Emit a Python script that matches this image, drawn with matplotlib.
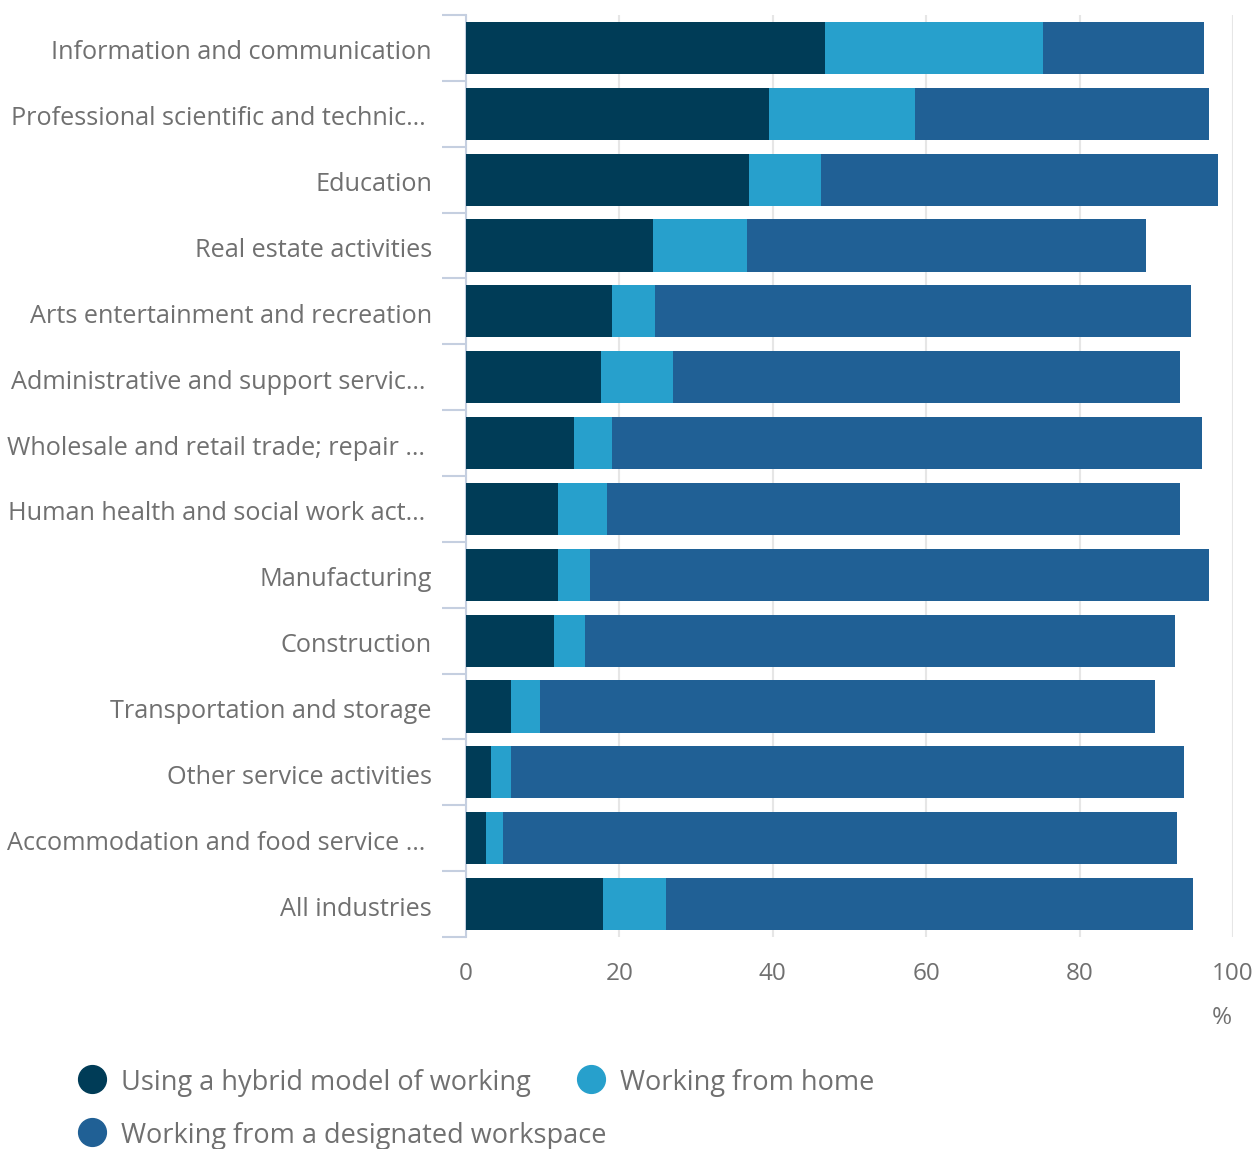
import matplotlib
matplotlib.use("Agg")
import matplotlib.pyplot as plt
from matplotlib.ticker import FixedLocator
from matplotlib.lines import Line2D
from matplotlib.transforms import ScaledTranslation

plt.rcParams['font.family'] = ['Open Sans', 'DejaVu Sans']

categories = [
    "Information and communication",
    "Professional scientific and technic… ",
    "Education",
    "Real estate activities",
    "Arts entertainment and recreation",
    "Administrative and support servic… ",
    "Wholesale and retail trade; repair … ",
    "Human health and social work act… ",
    "Manufacturing",
    "Construction",
    "Transportation and storage",
    "Other service activities",
    "Accommodation and food service … ",
    "All industries",
]
hybrid = [46.8, 39.5, 36.9, 24.4, 19.0, 17.6, 14.1, 12.0, 12.0, 11.5, 5.9, 3.3, 2.6, 17.9]
home = [28.4, 19.0, 9.4, 12.2, 5.6, 9.4, 4.9, 6.4, 4.2, 4.0, 3.7, 2.6, 2.2, 8.2]
workspace = [21.0, 38.4, 51.7, 52.1, 69.9, 66.1, 77.0, 74.7, 80.7, 76.9, 80.2, 87.7, 87.9, 68.7]
series_names = ["Using a hybrid model of working", "Working from home",
                "Working from a designated workspace"]
colors = ["#003c57", "#27a0cc", "#206095"]
xticks = [0, 20, 40, 60, 80, 100]

W, H = 1258, 1149
fig = plt.figure(figsize=(W / 100, H / 100), dpi=100)
ax = fig.add_axes([466 / W, 1 - 937 / H, (1233 - 466) / W, (937 - 15) / H])

grey = "#707070"
y = list(range(len(categories)))
left = [0] * len(categories)
for vals, c, name in zip([hybrid, home, workspace], colors, series_names):
    ax.barh(y, vals, left=left, height=0.79, color=c, label=name, zorder=3)
    left = [l + v for l, v in zip(left, vals)]

ax.set_xlim(0, 100)
ax.set_ylim(len(categories) - 0.5, -0.5)
ax.set_xticks(xticks)
ax.set_xticklabels([str(t) for t in xticks])
ax.grid(axis='x', color="#e6e6e6", linewidth=1.5, zorder=0)
ax.set_yticks(y)
ax.set_yticklabels(categories)
ax.yaxis.set_minor_locator(FixedLocator([i - 0.5 for i in range(len(categories) + 1)]))
ax.tick_params(axis='y', which='major', length=0, pad=24.5, labelsize=18.15, labelcolor=grey)
ax.tick_params(axis='y', which='minor', length=17, width=1.5, color="#c5cfe0")
ax.tick_params(axis='x', length=0, pad=18, labelsize=17.5, labelcolor=grey)

shift = ScaledTranslation(0, -2 / 100, fig.dpi_scale_trans)
for lab in ax.get_yticklabels():
    lab.set_transform(lab.get_transform() + shift)

for s in ['top', 'right', 'bottom']:
    ax.spines[s].set_visible(False)
ax.spines['left'].set_color("#c5cfe0")
ax.spines['left'].set_linewidth(1.5)

fig.text(1222 / W, 1 - 1018 / H, "%", ha='center', va='center', fontsize=17.5, color=grey)

# legend
legend_pos = [(92, 1079), (591, 1079), (92, 1132)]
for (px, py), c, name in zip(legend_pos, colors, series_names):
    fig.add_artist(Line2D([px / W], [1 - py / H], marker='o', markersize=20,
                          color=c, linestyle='none', transform=fig.transFigure))
    fig.text((px + 29) / W, 1 - (py + 4) / H, name, ha='left', va='center',
             fontsize=19.5, color=grey)

fig.savefig("out.png", dpi=100)
